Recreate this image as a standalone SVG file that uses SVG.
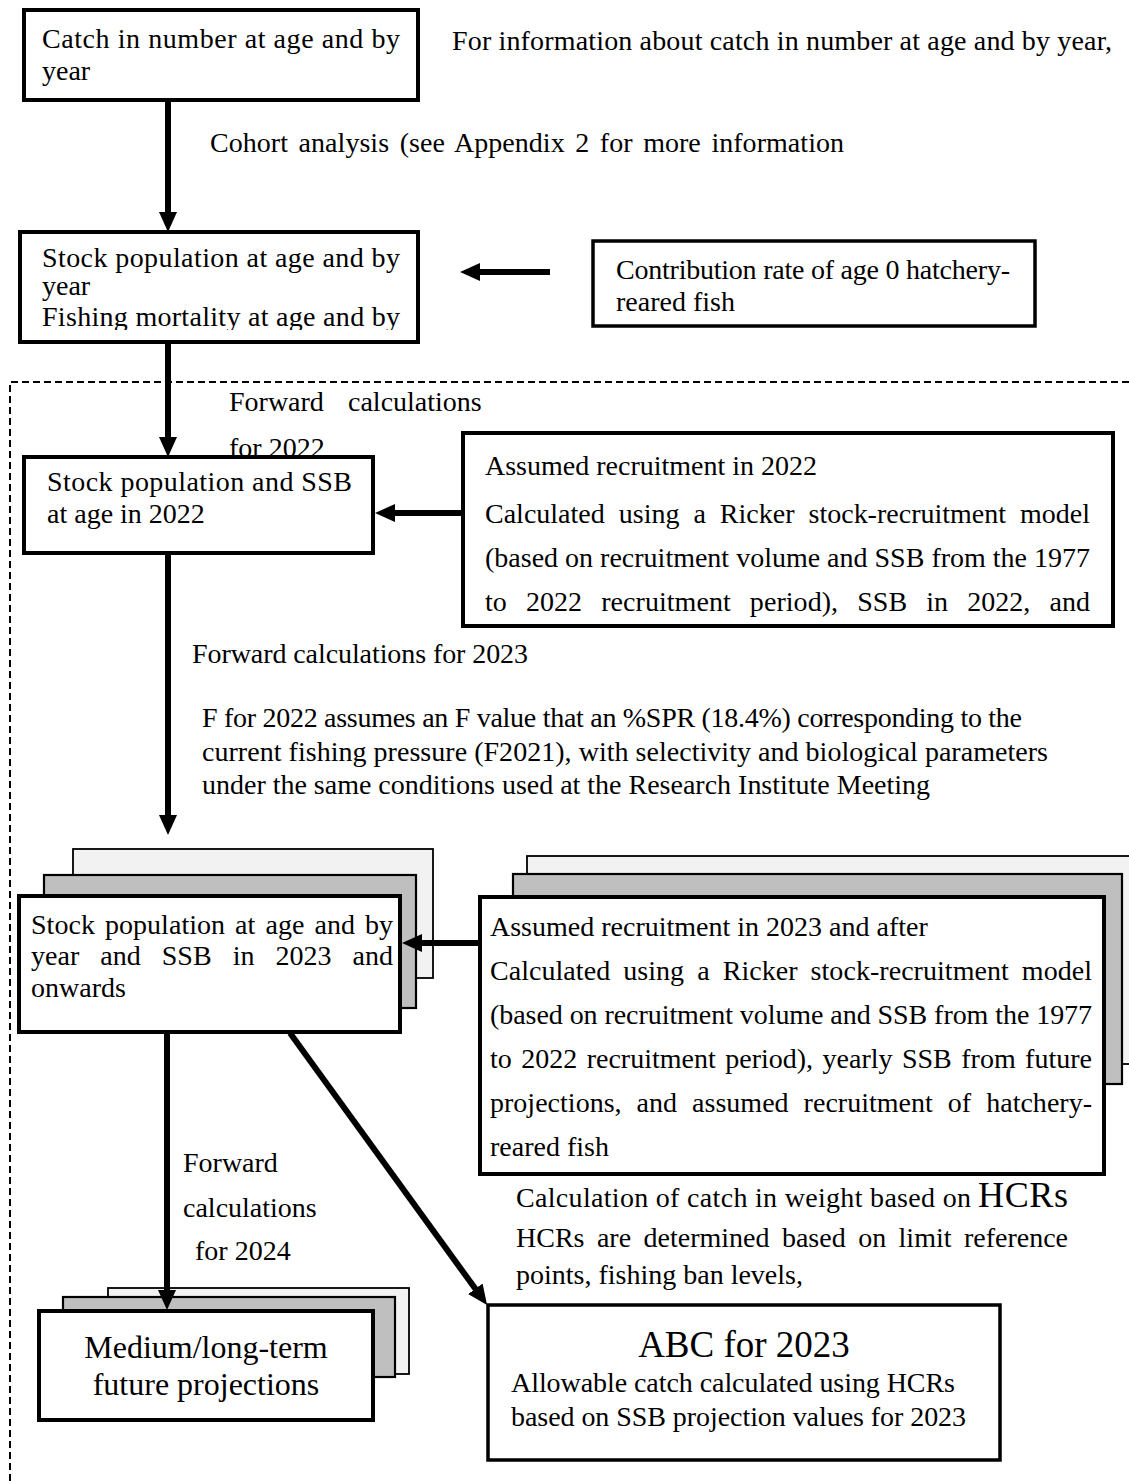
<svg xmlns="http://www.w3.org/2000/svg" width="1129" height="1481" viewBox="0 0 1129 1481" font-family="'Liberation Serif', 'Times New Roman', Tinos, 'DejaVu Serif', serif">
<style>
text{font-family:'Liberation Serif','Times New Roman',Tinos,'DejaVu Serif',serif;font-size:28px;fill:#000}
.box{fill:#fff;stroke:#000;stroke-width:4}
.light{fill:#f2f2f2;stroke:#000;stroke-width:1.8}
.gray{fill:#bfbfbf;stroke:#000;stroke-width:2.2}
.conn{stroke:#000;stroke-width:6;fill:none}
.big{font-size:32px}
</style>
<defs>
<marker id="ah" viewBox="0 -9 20 18" markerWidth="20" markerHeight="18" refX="1" refY="0" orient="auto" markerUnits="userSpaceOnUse">
<path d="M0,-9 L20,0 L0,9 z" fill="#000"/>
</marker>
<clipPath id="c2"><rect x="20" y="230" width="400" height="100"/></clipPath>
<clipPath id="c4"><rect x="463" y="433" width="650" height="184"/></clipPath>
</defs>
<rect width="1129" height="1481" fill="#fff"/>

<path d="M10,1481 L10,382 L1129,382" fill="none" stroke="#000" stroke-width="2" stroke-dasharray="7 4"/>

<text x="452" y="50" textLength="660" lengthAdjust="spacing">For information about catch in number at age and by year,</text>
<text x="210" y="152" word-spacing="3.5" textLength="634" lengthAdjust="spacing">Cohort analysis (see Appendix 2 for more information</text>
<text x="229" y="411">Forward</text>
<text x="348" y="411">calculations</text>
<text x="229" y="457">for 2022</text>
<text x="192" y="663" textLength="336" lengthAdjust="spacing">Forward calculations for 2023</text>
<text x="202" y="727" textLength="820" lengthAdjust="spacing">F for 2022 assumes an F value that an %SPR (18.4%) corresponding to the</text>
<text x="202" y="761" textLength="846" lengthAdjust="spacing">current fishing pressure (F2021), with selectivity and biological parameters</text>
<text x="202" y="794" textLength="728" lengthAdjust="spacing">under the same conditions used at the Research Institute Meeting</text>
<text x="183" y="1172">Forward</text>
<text x="183" y="1217">calculations</text>
<text x="195" y="1260">for 2024</text>
<text x="516" y="1207" textLength="455" lengthAdjust="spacing">Calculation of catch in weight based on</text>
<text x="978" y="1207" style="font-size:36px" textLength="90" lengthAdjust="spacing">HCRs</text>
<text x="516" y="1247" word-spacing="5.5" textLength="552" lengthAdjust="spacing">HCRs are determined based on limit reference</text>
<text x="516" y="1284">points, fishing ban levels,</text>

<g id="catch-box">
<rect class="box" x="24" y="10" width="394" height="90"/>
<text x="42" y="48" textLength="358" lengthAdjust="spacing">Catch in number at age and by</text>
<text x="42" y="80">year</text>
</g>

<g id="stock-box">
<rect class="box" x="20" y="232" width="398" height="110"/>
<g clip-path="url(#c2)">
<text x="42" y="267" textLength="358" lengthAdjust="spacing">Stock population at age and by</text>
<text x="42" y="295">year</text>
<text x="42" y="326" textLength="358" lengthAdjust="spacing">Fishing mortality at age and by</text>
</g>
</g>

<g id="contribution-box">
<rect class="box" x="593" y="241" width="442" height="85" style="stroke-width:3.5"/>
<text x="616" y="279" textLength="394" lengthAdjust="spacing">Contribution rate of age 0 hatchery-</text>
<text x="616" y="311">reared fish</text>
</g>

<g id="stock2022-box">
<rect class="box" x="24" y="457" width="349" height="96"/>
<text x="47" y="491" textLength="305" lengthAdjust="spacing">Stock population and SSB</text>
<text x="47" y="523">at age in 2022</text>
</g>

<g id="recruit2022-box">
<rect class="box" x="463" y="433" width="650" height="193"/>
<g clip-path="url(#c4)">
<text x="485" y="475">Assumed recruitment in 2022</text>
<text x="485" y="523" word-spacing="7" textLength="605" lengthAdjust="spacing">Calculated using a Ricker stock-recruitment model</text>
<text x="485" y="567" textLength="605" lengthAdjust="spacing">(based on recruitment volume and SSB from the 1977</text>
<text x="485" y="611" word-spacing="12" textLength="605" lengthAdjust="spacing">to 2022 recruitment period), SSB in 2022, and</text>
</g>
</g>

<g id="stock2023-stack">
<rect class="light" x="73" y="849" width="360" height="129"/>
<rect class="gray" x="44" y="875" width="372" height="133"/>
<rect class="box" x="19" y="896" width="381" height="136"/>
<text x="31" y="934" word-spacing="3" textLength="362" lengthAdjust="spacing">Stock population at age and by</text>
<text x="31" y="965" word-spacing="14" textLength="362" lengthAdjust="spacing">year and SSB in 2023 and</text>
<text x="31" y="997">onwards</text>
</g>

<g id="recruit2023-stack">
<rect class="light" x="527" y="856" width="620" height="208"/>
<rect class="gray" x="513" y="874" width="609" height="210"/>
<rect class="box" x="480" y="897" width="624" height="277"/>
<text x="490" y="936">Assumed recruitment in 2023 and after</text>
<text x="490" y="980" word-spacing="6" textLength="602" lengthAdjust="spacing">Calculated using a Ricker stock-recruitment model</text>
<text x="490" y="1024" textLength="602" lengthAdjust="spacing">(based on recruitment volume and SSB from the 1977</text>
<text x="490" y="1068" word-spacing="2.4" textLength="602" lengthAdjust="spacing">to 2022 recruitment period), yearly SSB from future</text>
<text x="490" y="1112" word-spacing="8" textLength="602" lengthAdjust="spacing">projections, and assumed recruitment of hatchery-</text>
<text x="490" y="1156">reared fish</text>
</g>

<g id="projection-stack">
<rect class="light" x="108" y="1288" width="301" height="86"/>
<rect class="gray" x="63" y="1297" width="332" height="80"/>
<rect class="box" x="39" y="1311" width="334" height="109"/>
<text class="big" x="206" y="1358" text-anchor="middle">Medium/long-term</text>
<text class="big" x="206" y="1395" text-anchor="middle">future projections</text>
</g>

<g id="abc-box">
<rect class="box" x="488" y="1305" width="512" height="155" style="stroke-width:3.5"/>
<text x="744" y="1357" text-anchor="middle" style="font-size:37px">ABC for 2023</text>
<text x="511" y="1392" textLength="444" lengthAdjust="spacing">Allowable catch calculated using HCRs</text>
<text x="511" y="1426" textLength="455" lengthAdjust="spacing">based on SSB projection values for 2023</text>
</g>

<g id="connectors">
<line class="conn" x1="168" y1="100" x2="168" y2="213" marker-end="url(#ah)"/>
<line class="conn" x1="168" y1="342" x2="168" y2="438" marker-end="url(#ah)"/>
<line class="conn" x1="550" y1="272" x2="479" y2="272" marker-end="url(#ah)"/>
<line class="conn" x1="463" y1="513" x2="394" y2="513" marker-end="url(#ah)"/>
<line class="conn" x1="168" y1="553" x2="168" y2="816" marker-end="url(#ah)"/>
<line class="conn" x1="478" y1="943" x2="421" y2="943" marker-end="url(#ah)"/>
<line class="conn" x1="167" y1="1032" x2="167" y2="1291" marker-end="url(#ah)"/>
<line class="conn" x1="290" y1="1033" x2="475.9" y2="1289.6" marker-end="url(#ah)"/>
</g>
</svg>
